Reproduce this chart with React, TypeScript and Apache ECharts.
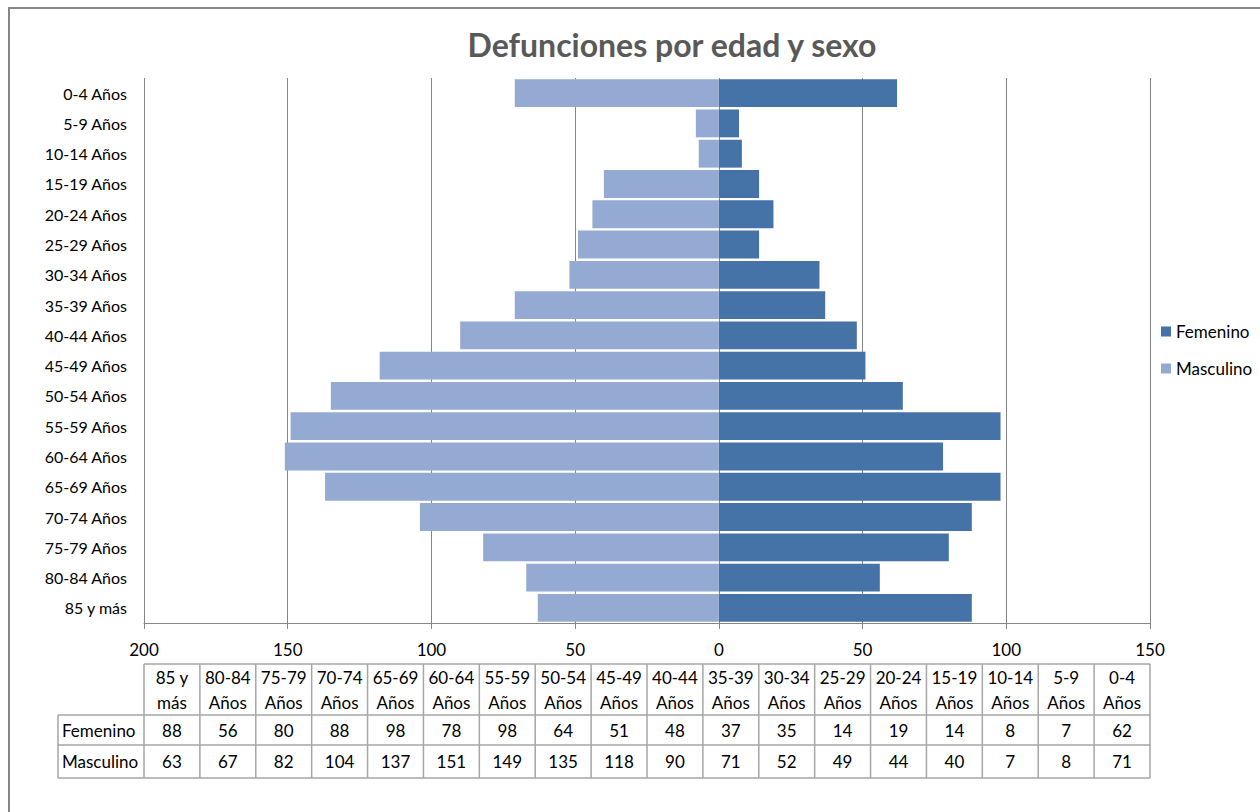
import React, { useEffect, useRef } from "react";
import * as echarts from "echarts";

const ageGroups = [
  "0-4 Años", "5-9 Años", "10-14 Años", "15-19 Años", "20-24 Años", "25-29 Años",
  "30-34 Años", "35-39 Años", "40-44 Años", "45-49 Años", "50-54 Años", "55-59 Años",
  "60-64 Años", "65-69 Años", "70-74 Años", "75-79 Años", "80-84 Años", "85 y más",
];
const femenino = [62, 7, 8, 14, 19, 14, 35, 37, 48, 51, 64, 98, 78, 98, 88, 80, 56, 88];
const masculino = [71, 8, 7, 40, 44, 49, 52, 71, 90, 118, 135, 149, 151, 137, 104, 82, 67, 63];
const tableHeaders = [
  "85 y\nmás", "80-84\nAños", "75-79\nAños", "70-74\nAños", "65-69\nAños", "60-64\nAños",
  "55-59\nAños", "50-54\nAños", "45-49\nAños", "40-44\nAños", "35-39\nAños", "30-34\nAños",
  "25-29\nAños", "20-24\nAños", "15-19\nAños", "10-14\nAños", "5-9\nAños", "0-4\nAños",
];
const xTicks = { min: -200, max: 150, interval: 50 };

const FONT = "Lato, 'Open Sans', sans-serif";

export default function App() {
  const ref = useRef<HTMLDivElement>(null);
  useEffect(() => {
    if (!ref.current) return;
    const chart = echarts.init(ref.current, null, { renderer: "svg" });

    const plotL = 144, plotR = 1150;
    const colW = (plotR - plotL) / tableHeaders.length;
    const labelL = 58;
    const yH = 664, y1 = 715, y2 = 745, y3 = 778;
    const lineColor = "#a6a6a6";
    const els: any[] = [];
    els.push({ type: "rect", shape: { x: 9, y: 8, width: 1270, height: 830 }, style: { fill: "none", stroke: "#868686", lineWidth: 2 } });
    els.push({ type: "text", x: 672, y: 44, style: { text: "Defunciones por edad y sexo", font: `bold 32px ${FONT}`, fill: "#595959", align: "center", verticalAlign: "middle" } });
    els.push({ type: "line", shape: { x1: plotL, y1: yH, x2: plotR, y2: yH }, style: { stroke: lineColor, lineWidth: 1.5 } });
    [y1, y2, y3].forEach((yy) => els.push({ type: "line", shape: { x1: labelL, y1: yy, x2: plotR, y2: yy }, style: { stroke: lineColor, lineWidth: 1.5 } }));
    els.push({ type: "line", shape: { x1: labelL, y1: y1, x2: labelL, y2: y3 }, style: { stroke: lineColor, lineWidth: 1.5 } });
    for (let i = 0; i <= tableHeaders.length; i++) {
      const xx = plotL + i * colW;
      els.push({ type: "line", shape: { x1: xx, y1: yH, x2: xx, y2: y3 }, style: { stroke: lineColor, lineWidth: 1.5 } });
    }
    const n = ageGroups.length;
    tableHeaders.forEach((h, i) => {
      const cx = plotL + (i + 0.5) * colW;
      const src = n - 1 - i;
      els.push({ type: "text", x: cx, y: (yH + y1) / 2, style: { text: h, font: `17px ${FONT}`, fill: "#000", align: "center", verticalAlign: "middle", lineHeight: 25 } });
      els.push({ type: "text", x: cx, y: (y1 + y2) / 2, style: { text: String(femenino[src]), font: `17px ${FONT}`, fill: "#000", align: "center", verticalAlign: "middle" } });
      els.push({ type: "text", x: cx, y: (y2 + y3) / 2, style: { text: String(masculino[src]), font: `17px ${FONT}`, fill: "#000", align: "center", verticalAlign: "middle" } });
    });
    els.push({ type: "text", x: labelL + 4, y: (y1 + y2) / 2, style: { text: "Femenino", font: `17px ${FONT}`, fill: "#000", align: "left", verticalAlign: "middle" } });
    els.push({ type: "text", x: labelL + 4, y: (y2 + y3) / 2, style: { text: "Masculino", font: `17px ${FONT}`, fill: "#000", align: "left", verticalAlign: "middle" } });

    chart.setOption({
      animation: false,
      backgroundColor: "#fff",
      textStyle: { fontFamily: FONT },
      grid: { left: plotL, right: 1260 - plotR, top: 78, bottom: 812 - 623, containLabel: false },
      legend: {
        orient: "vertical",
        left: 1156,
        top: 318,
        itemWidth: 10,
        itemHeight: 10,
        itemGap: 20,
        icon: "rect",
        textStyle: { fontSize: 17, color: "#000", fontFamily: FONT },
        data: ["Femenino", "Masculino"],
      },
      xAxis: {
        type: "value",
        min: xTicks.min,
        max: xTicks.max,
        interval: xTicks.interval,
        axisLine: { show: true, onZero: false, lineStyle: { color: "#868686" } },
        axisTick: { show: true, length: 6, lineStyle: { color: "#868686" } },
        axisLabel: { formatter: (v: number) => String(Math.abs(v)), fontSize: 17, color: "#000", margin: 18, fontFamily: FONT },
        splitLine: { show: true, lineStyle: { color: "#868686", width: 1 } },
      },
      yAxis: {
        type: "category",
        inverse: true,
        data: ageGroups,
        axisLine: { show: false, onZero: false },
        axisTick: { show: false },
        axisLabel: { fontSize: 16, color: "#000", margin: 17, fontFamily: FONT },
      },
      series: [
        {
          name: "Femenino",
          type: "bar",
          data: femenino,
          barGap: "-100%",
          barCategoryGap: "8%",
          itemStyle: { color: "#4572A7" },
        },
        {
          name: "Masculino",
          type: "bar",
          data: masculino.map((v) => -v),
          barGap: "-100%",
          barCategoryGap: "8%",
          itemStyle: { color: "#95AAD3" },
        },
      ],
      graphic: els,
    });
    return () => chart.dispose();
  }, []);
  return <div ref={ref} style={{ position: "absolute", left: 0, top: 0, width: 1260, height: 812 }} />;
}
